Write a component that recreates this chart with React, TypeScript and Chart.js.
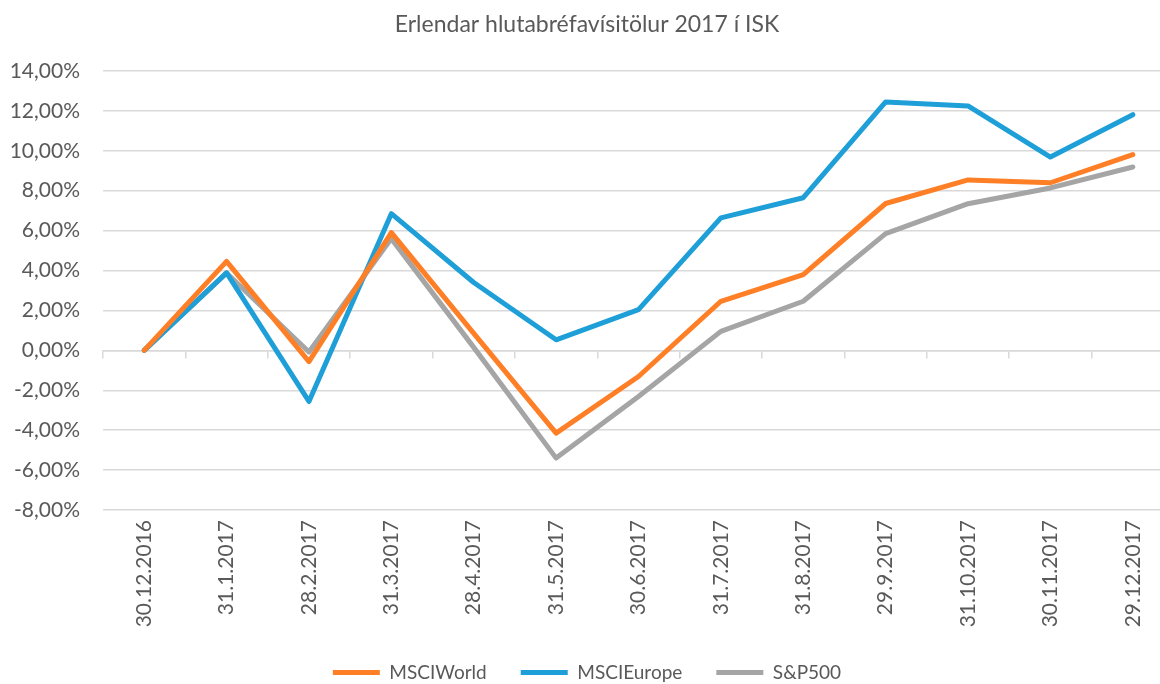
import React, { useEffect, useRef } from "react";
import { Chart, registerables } from "chart.js";

Chart.register(...registerables);

const categories = [
  "30.12.2016", "31.1.2017", "28.2.2017", "31.3.2017", "28.4.2017", "31.5.2017",
  "30.6.2017", "31.7.2017", "31.8.2017", "29.9.2017", "31.10.2017", "30.11.2017", "29.12.2017",
];
const msciWorld = [0, 4.46, -0.56, 5.9, 0.85, -4.15, -1.31, 2.46, 3.8, 7.36, 8.54, 8.4, 9.81];
const msciEurope = [0, 3.88, -2.56, 6.85, 3.4, 0.53, 2.04, 6.64, 7.65, 12.45, 12.25, 9.69, 11.81];
const sp500 = [0, 3.88, -0.08, 5.6, 0.15, -5.4, -2.31, 0.95, 2.46, 5.85, 7.35, 8.14, 9.19];
const seriesNames = ["MSCIWorld", "MSCIEurope", "S&P500"];
const titleText = "Erlendar hlutabréfavísitölur 2017 í ISK";

const FONT = "Lato, 'Open Sans', sans-serif";
const TEXT = "#595959";
const GRID = "#D9D9D9";

export default function App() {
  const ref = useRef<HTMLCanvasElement | null>(null);
  useEffect(() => {
    if (!ref.current) return;
    const mk = (label: string, data: number[], color: string) => ({
      label,
      data,
      borderColor: color,
      backgroundColor: color,
      borderWidth: 5,
      pointRadius: 0,
      pointStyle: "line" as const,
      borderCapStyle: "round" as const,
      borderJoinStyle: "round" as const,
      tension: 0,
      fill: false,
      xAxisID: "x",
    });
    const chart = new Chart(ref.current, {
      type: "line",
      data: {
        labels: categories,
        datasets: [
          mk(seriesNames[0], msciWorld, "#FF7F27"),
          mk(seriesNames[1], msciEurope, "#1E9FD8"),
          mk(seriesNames[2], sp500, "#A5A5A5"),
        ],
      },
      options: {
        animation: false,
        responsive: false,
        maintainAspectRatio: false,
        layout: { padding: { left: 0, right: 2, top: 0, bottom: 0 } },
        plugins: {
          title: {
            display: true,
            text: titleText,
            color: TEXT,
            font: { family: FONT, size: 23, weight: "normal" },
            padding: { top: 11, bottom: 32.4 },
          },
          legend: {
            position: "bottom",
            labels: {
              usePointStyle: true,
              pointStyleWidth: 47,
              color: TEXT,
              padding: 34,
              font: { family: FONT, size: 19 },
            },
          },
          tooltip: { enabled: false },
        },
        scales: {
          x: {
            type: "category",
            position: "bottom",
            offset: true,
            grid: { display: false, drawTicks: false },
            border: { display: false },
            ticks: {
              color: TEXT,
              font: { family: FONT, size: 21 },
              minRotation: 90,
              maxRotation: 90,
              padding: 10,
              autoSkip: false,
            },
            afterFit: (s: any) => {
              s.height = 119;
            },
          },
          xz: {
            type: "category",
            axis: "x",
            position: { y: 0 },
            offset: true,
            grid: {
              offset: true,
              drawOnChartArea: false,
              drawTicks: true,
              tickLength: 7,
              color: GRID,
              lineWidth: 1.5,
            },
            border: { display: true, color: GRID, width: 1.5 },
            ticks: { display: false },
          },
          y: {
            min: -8,
            max: 14,
            ticks: {
              stepSize: 2,
              color: TEXT,
              font: { family: FONT, size: 21 },
              padding: 23,
              callback: (v: any) => Number(v).toFixed(2).replace(".", ",") + "%",
            },
            grid: { color: GRID, lineWidth: 1.5, drawTicks: false },
            border: { display: false },
            afterFit: (s: any) => {
              s.width = 103;
            },
          },
        },
      },
    });
    return () => chart.destroy();
  }, []);
  return (
    <div
      style={{
        position: "fixed",
        left: 0,
        top: 0,
        width: 1160,
        height: 684,
        overflow: "hidden",
        background: "#fff",
      }}
    >
      <canvas ref={ref} width={1176} height={692} style={{ width: 1176, height: 692, display: "block" }} />
    </div>
  );
}
